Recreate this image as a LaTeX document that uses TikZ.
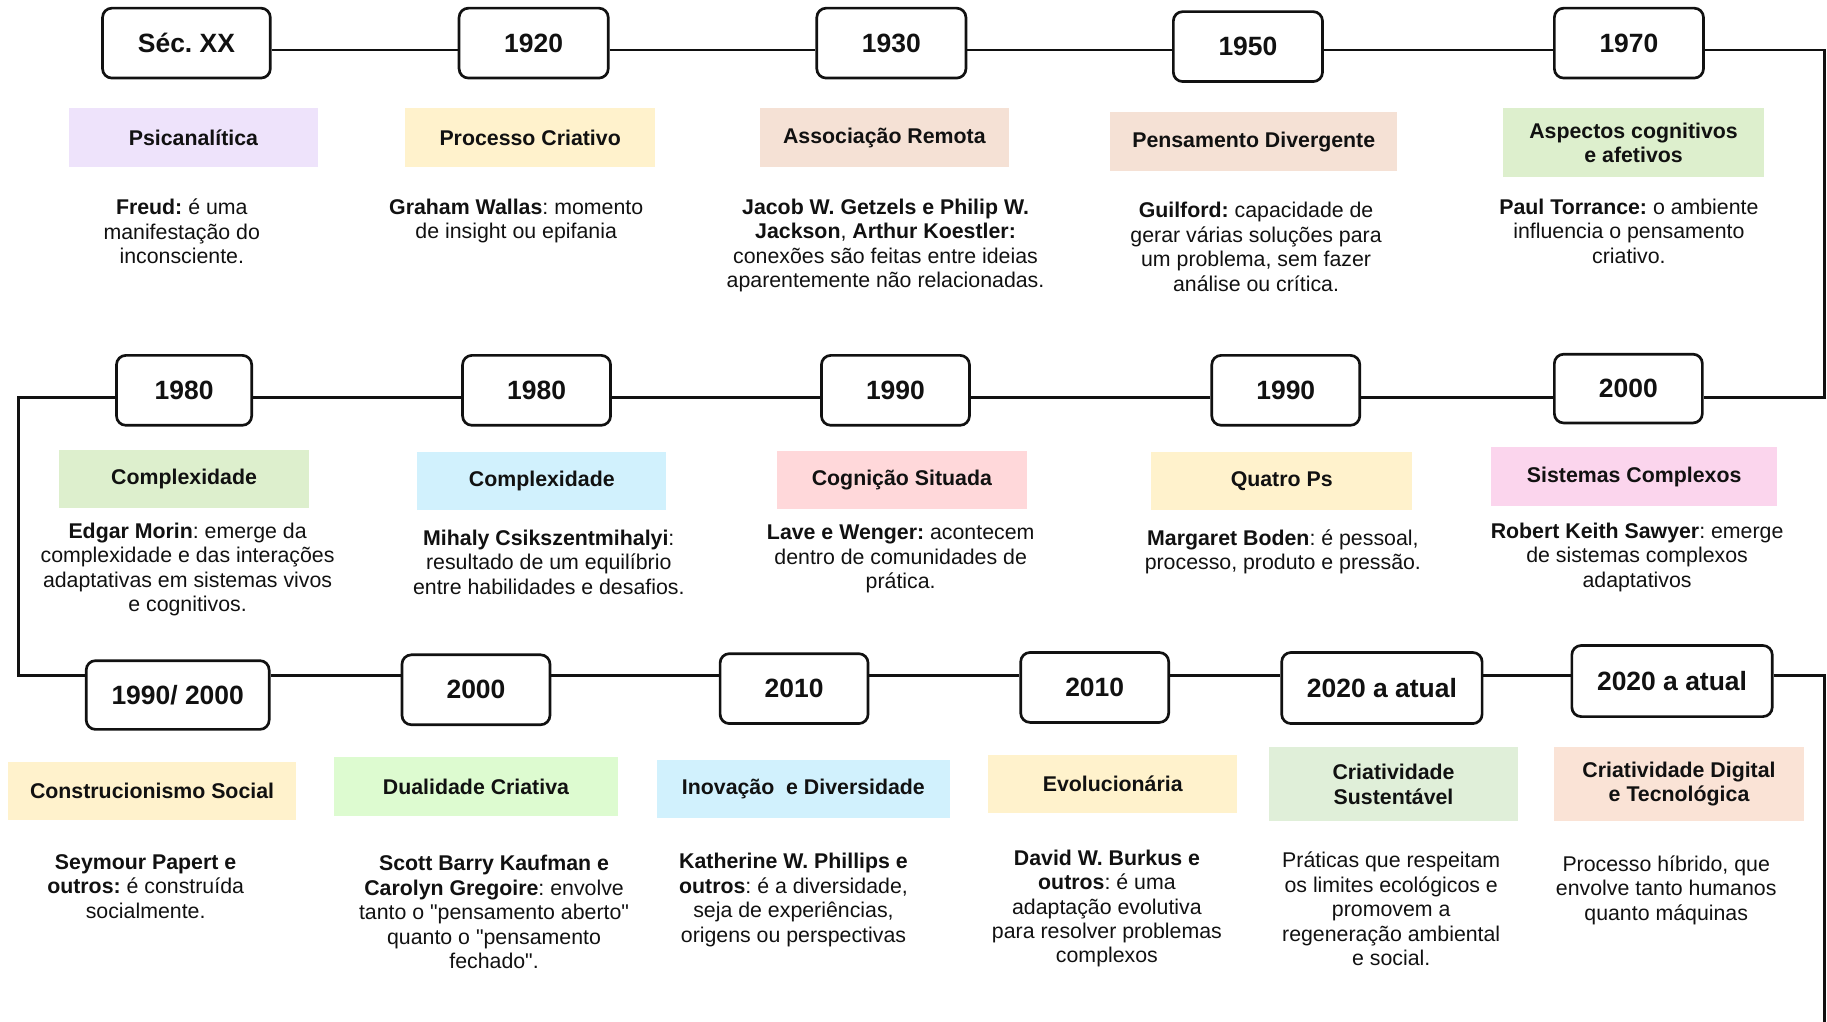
\documentclass[tikz,border=0pt]{standalone}
\usepackage{fontspec}
\setmainfont{Liberation Sans}[Ligatures=TeXOff]
\definecolor{cPur}{HTML}{EEE3FB}
\definecolor{cYel}{HTML}{FFF2CC}
\definecolor{cPea}{HTML}{F5E1D5}
\definecolor{cGrn}{HTML}{DDEFCD}
\definecolor{cCya}{HTML}{D1F1FD}
\definecolor{cRed}{HTML}{FFD8DA}
\definecolor{cPnk}{HTML}{FBD5ED}
\definecolor{cLgr}{HTML}{DDFBD0}
\definecolor{cSgr}{HTML}{E0EFD9}
\definecolor{cOra}{HTML}{FAE3D6}
\definecolor{ink}{HTML}{111111}
\frenchspacing
\tikzset{
  yearbox/.style={draw=ink, line width=2.3pt, rounded corners=8pt, fill=white, inner sep=0pt,
    minimum height=60pt, font=\fontsize{22.7}{26}\selectfont\bfseries, text=ink},
  catbox/.style={fill=#1, draw=none, inner sep=0pt, minimum height=50pt, align=center,
    font=\fontsize{18.3}{21}\selectfont\bfseries, text=ink},
  desc/.style={anchor=north, inner sep=0pt, align=center, text=ink,
    font=\fontsize{18.3}{21}\selectfont},
  tl/.style={draw=ink, line width=2.3pt}
}
\begin{document}
\begin{tikzpicture}[x=1pt,y=-1pt]
\useasboundingbox (0,0) rectangle (1568,877);
% ---------- row 1 ----------
\node[yearbox, minimum width=144pt] (sec) at (160,37) {Séc. XX};
\node[yearbox, minimum width=128pt] (y1920) at (458,37) {1920};
\node[yearbox, minimum width=128pt] (y1930) at (765,37) {1930};
\node[yearbox, minimum width=128pt] (y1950) at (1071,40) {1950};
\node[yearbox, minimum width=128pt] (y1970) at (1398,37) {1970};
\node[catbox=cPur, minimum width=214pt] (psic) at (166,118) {Psicanalítica};
\node[catbox=cYel, minimum width=214pt] (proc) at (455,118) {Processo Criativo};
\node[catbox=cPea, minimum width=214pt] (asso) at (759,118) {Associação Remota};
\node[catbox=cPea, minimum width=246pt, minimum height=51pt] (pens) at (1076,121.5) {Pensamento Divergente};
\node[catbox=cGrn, minimum width=224pt, minimum height=59pt] (aspe) at (1402,122.5) {Aspectos cognitivos\\e afetivos};
\node[desc] (d1) at (156,170.5) {\textbf{Freud:} é uma\\manifestação do\\inconsciente.};
\node[desc] (d2) at (443,170.5) {\textbf{Graham Wallas}: momento\\de insight ou epifania};
\node[desc] (d3) at (760,170.5) {\textbf{Jacob W. Getzels e Philip W.}\\\textbf{Jackson}, \textbf{Arthur Koestler:}\\conexões são feitas entre ideias\\aparentemente não relacionadas.};
\node[desc] (d4) at (1078,173.5) {\textbf{Guilford:} capacidade de\\gerar várias soluções para\\um problema, sem fazer\\análise ou crítica.};
\node[desc] (d5) at (1398,170.5) {\textbf{Paul Torrance:} o ambiente\\influencia o pensamento\\criativo.};
% ---------- row 2 ----------
\node[yearbox, minimum width=116pt] (y1980a) at (158,335) {1980};
\node[yearbox, minimum width=127pt] (y1980b) at (460.5,335) {1980};
\node[yearbox, minimum width=127pt] (y1990a) at (768.5,335) {1990};
\node[yearbox, minimum width=127pt] (y1990b) at (1103.5,335) {1990};
\node[yearbox, minimum width=127pt, minimum height=59pt] (y2000a) at (1397.5,333.5) {2000};
\node[catbox=cGrn, minimum width=214pt] (comp1) at (158,411) {Complexidade};
\node[catbox=cCya, minimum width=214pt] (comp2) at (465,413) {Complexidade};
\node[catbox=cRed, minimum width=214pt] (cogn) at (774,412) {Cognição Situada};
\node[catbox=cYel, minimum width=224pt] (quat) at (1100,413) {Quatro Ps};
\node[catbox=cPnk, minimum width=245pt] (sist) at (1402.5,409) {Sistemas Complexos};
\node[desc] (d6) at (161,448.5) {\textbf{Edgar Morin}: emerge da\\complexidade e das interações\\adaptativas em sistemas vivos\\e cognitivos.};
\node[desc] (d7) at (471,454.5) {\textbf{Mihaly Csikszentmihalyi}:\\resultado de um equilíbrio\\entre habilidades e desafios.};
\node[desc] (d8) at (773,450.5) {\textbf{Lave e Wenger:} acontecem\\dentro de comunidades de\\prática.};
\node[desc] (d9) at (1101,454.5) {\textbf{Margaret Boden}: é pessoal,\\processo, produto e pressão.};
\node[desc] (d10) at (1405,448.5) {\textbf{Robert Keith Sawyer}: emerge\\de sistemas complexos\\adaptativos};
% ---------- row 3 ----------
\node[yearbox, minimum width=157pt, minimum height=59pt] (y9000) at (152.5,596.5) {1990/ 2000};
\node[yearbox, minimum width=127pt] (y2000b) at (408.5,592) {2000};
\node[yearbox, minimum width=127pt] (y2010a) at (681.5,591) {2010};
\node[yearbox, minimum width=127pt] (y2010b) at (939.5,590) {2010};
\node[yearbox, minimum width=172pt, minimum height=61pt] (y2020a) at (1186,590.5) {2020 a atual};
\node[yearbox, minimum width=172pt, minimum height=61pt] (y2020b) at (1435,584.5) {2020 a atual};
\node[catbox=cYel, minimum width=247pt] (cons) at (130.5,679) {Construcionismo Social};
\node[catbox=cLgr, minimum width=243pt] (dual) at (408.5,675) {Dualidade Criativa};
\node[catbox=cCya, minimum width=251pt] (inov) at (689.5,677) {Inovação\ \ e Diversidade};
\node[catbox=cYel, minimum width=214pt] (evol) at (955,673) {Evolucionária};
\node[catbox=cSgr, minimum width=214pt, minimum height=64pt] (sust) at (1196,673) {Criatividade\\Sustentável};
\node[catbox=cOra, minimum width=214pt, minimum height=64pt] (digi) at (1441,673) {Criatividade Digital\\e Tecnológica};
\node[desc] (d11) at (125,733) {\textbf{Seymour Papert e}\\\textbf{outros:} é construída\\socialmente.};
\node[desc] (d12) at (424,734) {\textbf{Scott Barry Kaufman e}\\\textbf{Carolyn Gregoire}: envolve\\tanto o "pensamento aberto"\\quanto o "pensamento\\fechado".};
\node[desc] (d13) at (681,732) {\textbf{Katherine W. Phillips e}\\\textbf{outros}: é a diversidade,\\seja de experiências,\\origens ou perspectivas};
\node[desc] (d14) at (950,729) {\textbf{David W. Burkus e}\\\textbf{outros}: é uma\\adaptação evolutiva\\para resolver problemas\\complexos};
\node[desc] (d15) at (1194,731) {Práticas que respeitam\\os limites ecológicos e\\promovem a\\regeneração ambiental\\e social.};
\node[desc] (d16) at (1430,734) {Processo híbrido, que\\envolve tanto humanos\\quanto máquinas};
% ---------- timeline ----------
\coordinate (r1) at (0,43);
\coordinate (r2) at (0,341);
\coordinate (r3) at (0,580);
\coordinate (k1) at (1566,43);
\coordinate (k2) at (1566,341);
\coordinate (k3) at (16,341);
\coordinate (k4) at (16,580);
\coordinate (k5) at (1566,580);
\coordinate (k6) at (1566,877);
\draw[tl] (sec.east |- r1) -- (y1920.west |- r1);
\draw[tl] (y1920.east |- r1) -- (y1930.west |- r1);
\draw[tl] (y1930.east |- r1) -- (y1950.west |- r1);
\draw[tl] (y1950.east |- r1) -- (y1970.west |- r1);
\draw[tl] (y1970.east |- r1) -- (k1) -- (k2) -- (y2000a.east |- r2);
\draw[tl] (y2000a.west |- r2) -- (y1990b.east |- r2);
\draw[tl] (y1990b.west |- r2) -- (y1990a.east |- r2);
\draw[tl] (y1990a.west |- r2) -- (y1980b.east |- r2);
\draw[tl] (y1980b.west |- r2) -- (y1980a.east |- r2);
\draw[tl] (y1980a.west |- r2) -- (k3) -- (k4) -- (y9000.west |- r3);
\draw[tl] (y9000.east |- r3) -- (y2000b.west |- r3);
\draw[tl] (y2000b.east |- r3) -- (y2010a.west |- r3);
\draw[tl] (y2010a.east |- r3) -- (y2010b.west |- r3);
\draw[tl] (y2010b.east |- r3) -- (y2020a.west |- r3);
\draw[tl] (y2020a.east |- r3) -- (y2020b.west |- r3);
\draw[tl] (y2020b.east |- r3) -- (k5) -- (k6);
\end{tikzpicture}
\end{document}
